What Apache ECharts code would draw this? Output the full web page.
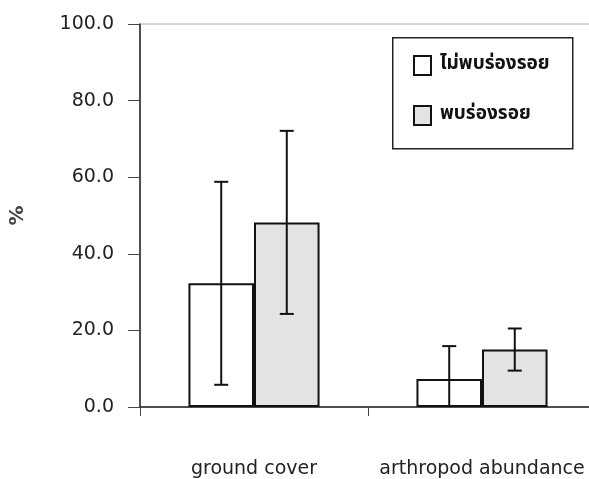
<!DOCTYPE html>
<html>
<head>
<meta charset="utf-8">
<script src="https://cdn.jsdelivr.net/npm/echarts@6/dist/echarts.min.js"></script>
<style>
html,body{margin:0;padding:0;background:#fff;}
#chart{width:589px;height:479px;}
</style>
</head>
<body>
<div id="chart"></div>
<script>
const categories = ['ground cover', 'arthropod abundance'];
const seriesNames = ['ไม่พบร่องรอย', 'พบร่องรอย'];
const notFoundMean = [32.3, 7.3];
const notFoundErr = [26.5, 8.6];
const foundMean = [48.2, 15.0];
const foundErr = [23.9, 5.5];
const yTicks = [0, 20, 40, 60, 80, 100];

const chart = echarts.init(document.getElementById('chart'));
const FONT = 'DejaVu Sans';

function errSeries(means, errs, idx) {
  const data = means.map((m, i) => [i, Math.max(0, m - errs[i]), m + errs[i]]);
  return {
    type: 'custom',
    name: 'err' + idx,
    z: 10,
    silent: true,
    data: data,
    renderItem: function (params, api) {
      const ci = api.value(0);
      const lo = api.coord([ci, api.value(1)]);
      const hi = api.coord([ci, api.value(2)]);
      const bw = api.size([1, 0])[0];
      const barW = bw * (1 - 0.425) / 2;
      const x = lo[0] + (idx === 0 ? -barW / 2 : barW / 2);
      const cap = 7;
      const st = {stroke: '#111', lineWidth: 2};
      const children = [
        {type: 'line', shape: {x1: x, y1: lo[1], x2: x, y2: hi[1]}, style: st},
        {type: 'line', shape: {x1: x - cap, y1: hi[1], x2: x + cap, y2: hi[1]}, style: st}
      ];
      if (means[params.dataIndex] - errs[params.dataIndex] > 0) {
        children.push({type: 'line', shape: {x1: x - cap, y1: lo[1], x2: x + cap, y2: lo[1]}, style: st});
      }
      return {type: 'group', children: children};
    }
  };
}

const option = {
  backgroundColor: '#fff',
  animation: false,
  grid: {
    left: 140, top: 24, width: 456, bottom: 72,
    containLabel: false, outerBoundsMode: 'none',
    show: true, borderColor: '#aaa', borderWidth: 1, backgroundColor: 'transparent'
  },
  xAxis: {
    type: 'category',
    data: categories,
    axisLine: {lineStyle: {color: '#222', width: 1.5}},
    axisTick: {show: true, length: 9, lineStyle: {color: '#444'}},
    axisLabel: {color: '#222', fontFamily: FONT, fontSize: 19, margin: 53, interval: 0, hideOverlap: false},
    splitLine: {show: false}
  },
  yAxis: {
    type: 'value',
    min: yTicks[0], max: yTicks[yTicks.length - 1], interval: 20,
    name: '%', nameLocation: 'middle', nameGap: 112, nameRotate: 90,
    nameTextStyle: {color: '#444', fontFamily: FONT, fontSize: 20, fontWeight: 'bold'},
    axisLine: {show: true, lineStyle: {color: '#222', width: 1.5}},
    axisTick: {show: true, length: 12, lineStyle: {color: '#444'}},
    axisLabel: {color: '#222', fontFamily: FONT, fontSize: 19, margin: 26,
      formatter: v => v.toFixed(1)},
    splitLine: {show: false}
  },
  legend: {
    orient: 'vertical',
    left: 413, top: 55,
    padding: 0,
    itemGap: 29,
    itemWidth: 17, itemHeight: 19,
    icon: 'rect',
    textStyle: {color: '#111', fontSize: 19, fontWeight: 'bold', padding: [0, 0, 0, 4],
      fontFamily: 'Noto Sans Thai, Loma, Garuda, sans-serif'},
    data: seriesNames
  },
  graphic: [{
    type: 'rect', left: 392, top: 37, z: 0,
    shape: {width: 180, height: 111},
    style: {fill: '#fff', stroke: '#222', lineWidth: 1.5}
  }],
  series: [
    {
      name: seriesNames[0], type: 'bar', data: notFoundMean,
      barGap: '0%', barCategoryGap: '42.5%',
      itemStyle: {color: '#ffffff', borderColor: '#111', borderWidth: 2}
    },
    {
      name: seriesNames[1], type: 'bar', data: foundMean,
      barGap: '0%', barCategoryGap: '42.5%',
      itemStyle: {color: '#e3e3e3', borderColor: '#111', borderWidth: 2}
    },
    errSeries(notFoundMean, notFoundErr, 0),
    errSeries(foundMean, foundErr, 1)
  ]
};
chart.setOption(option);
</script>
</body>
</html>
